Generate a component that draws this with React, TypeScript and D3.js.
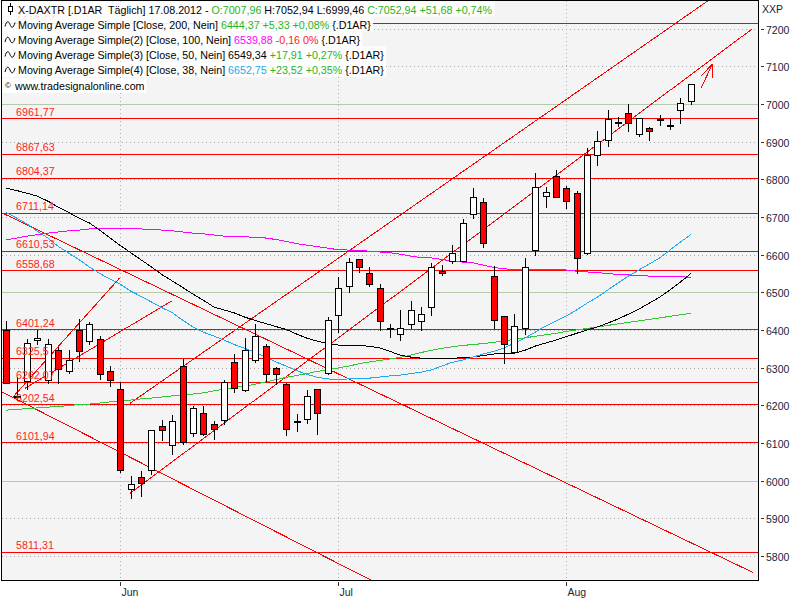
import React, { useLayoutEffect, useRef, useState } from 'react';
import * as d3 from 'd3';

// ---- Daily candles (index 0 = mid May 2012 ... index 66 = 17.08.2012)
const opens = [6399, 6222, 6264, 6374, 6266, 6347, 6291, 6399, 6370, 6377, 6290, 6244, 5977, 6010, 6028, 6146, 6095, 6305, 6127, 6180, 6149, 6161, 6316, 6241, 6319, 6357, 6300, 6257, 6156, 6164, 6244, 6285, 6439, 6516, 6587, 6551, 6512, 6404, 6390, 6415, 6425, 6461, 6556, 6583, 6583, 6709, 6739, 6544, 6438, 6341, 6406, 6612, 6755, 6809, 6776, 6764, 6605, 6864, 6903, 6950, 6976, 6920, 6936, 6961, 6944, 6983, 7007.96];
const highs = [6424, 6276, 6376, 6399, 6375, 6356, 6346, 6428, 6420, 6383, 6303, 6261, 6011, 6026, 6135, 6162, 6173, 6322, 6197, 6199, 6159, 6266, 6337, 6379, 6415, 6363, 6301, 6258, 6177, 6241, 6244, 6434, 6541, 6590, 6588, 6566, 6523, 6415, 6453, 6476, 6461, 6578, 6572, 6625, 6694, 6776, 6749, 6569, 6438, 6441, 6592, 6816, 6779, 6825, 6782, 6770, 6884, 6927, 6984, 6964, 7000, 6963, 6938, 6971, 6960, 7016, 7052.94];
const lows = [6258, 6214, 6243, 6362, 6259, 6259, 6285, 6317, 6363, 6269, 6250, 6024, 5954, 5960, 6017, 6108, 6071, 6097, 6118, 6121, 6110, 6150, 6235, 6239, 6314, 6264, 6257, 6121, 6133, 6152, 6124, 6284, 6394, 6501, 6554, 6517, 6401, 6381, 6373, 6406, 6401, 6439, 6545, 6578, 6582, 6696, 6621, 6406, 6312, 6338, 6388, 6598, 6725, 6752, 6723, 6550, 6601, 6838, 6889, 6942, 6927, 6916, 6903, 6943, 6934, 6950, 6999.46];
const closes = [6260, 6224, 6364, 6379, 6363, 6297, 6319, 6344, 6417, 6282, 6268, 6028, 5992, 5995, 6134, 6134, 6157, 6102, 6193, 6124, 6137, 6261, 6246, 6347, 6385, 6282, 6282, 6137, 6158, 6225, 6179, 6427, 6512, 6579, 6566, 6523, 6425, 6402, 6406, 6454, 6443, 6566, 6551, 6603, 6685, 6754, 6632, 6427, 6362, 6410, 6567, 6779, 6767, 6752, 6743, 6590, 6864, 6901, 6960, 6952, 6949, 6962, 6929, 6959, 6943, 7002, 7052.94];

// ---- Moving averages (one value per candle)
const ma200 = [6187, 6189, 6191, 6193, 6195, 6197, 6199, 6202, 6203, 6206, 6209, 6211, 6214, 6217, 6219, 6222, 6225, 6227, 6230, 6233, 6238, 6243, 6247, 6251, 6256, 6262, 6268, 6274, 6279, 6284, 6290, 6294, 6299, 6304, 6310, 6315, 6319, 6323, 6327, 6333, 6340, 6346, 6351, 6355, 6359, 6361, 6364, 6367, 6371, 6375, 6379, 6383, 6387, 6391, 6396, 6400, 6404, 6408, 6412, 6416, 6420, 6424, 6428, 6432, 6436, 6440, 6444.37];
const ma100 = [6639, 6644, 6649, 6653, 6657, 6660, 6663, 6665, 6668, 6669, 6669, 6669, 6668, 6668, 6667, 6665, 6663, 6660, 6657, 6655, 6652, 6649, 6648, 6647, 6646, 6644, 6640, 6635, 6629, 6625, 6621, 6617, 6613, 6612, 6611, 6609, 6607, 6605, 6601, 6596, 6592, 6591, 6587, 6583, 6580, 6578, 6572, 6566, 6562, 6561, 6561, 6561, 6560, 6560, 6559, 6556, 6554, 6552, 6550, 6547, 6546, 6544, 6543, 6542, 6541, 6541, 6539.88];
const ma50 = [6776, 6770, 6763, 6755, 6742, 6726, 6712, 6697, 6684, 6665, 6644, 6624, 6605, 6586, 6567, 6547, 6530, 6513, 6495, 6479, 6461, 6453, 6445, 6434, 6425, 6417, 6409, 6401, 6389, 6378, 6370, 6364, 6360, 6358, 6358, 6357, 6352, 6343, 6333, 6328, 6325, 6325, 6325, 6325, 6326, 6328, 6332, 6336, 6338, 6338, 6346, 6357, 6365, 6373, 6382, 6391, 6400, 6408, 6418, 6429, 6442, 6455, 6471, 6487, 6506, 6527, 6549.34];
const ma38 = [6711, 6697, 6681, 6662, 6644, 6622, 6604, 6587, 6567, 6550, 6535, 6521, 6503, 6489, 6474, 6459, 6446, 6426, 6408, 6394, 6384, 6373, 6361, 6351, 6341, 6328, 6315, 6304, 6292, 6282, 6274, 6270, 6268, 6270, 6271, 6272, 6275, 6278, 6280, 6284, 6288, 6294, 6304, 6314, 6320, 6328, 6336, 6343, 6352, 6365, 6378, 6394, 6410, 6424, 6437, 6453, 6471, 6487, 6506, 6525, 6543, 6559, 6575, 6591, 6612, 6633, 6652.75];

// ---- Horizontal support / resistance levels
const levelValues = [7215.73, 6961.77, 6867.63, 6804.37, 6711.14, 6610.53, 6558.68, 6401.24, 6325.5, 6262.07, 6202.54, 6101.94, 5811.31];
const levelLabels = ['7215,73', '6961,77', '6867,63', '6804,37', '6711,14', '6610,53', '6558,68', '6401,24', '6325,5', '6262,07', '6202,54', '6101,94', '5811,31'];

// ---- Trend lines: [index1, value1, index2, value2]
const trendLines: number[][] = [
  [-0.444, 6711.2, 71.98, 5756.6],
  [-0.444, 6236.0, 37.0, 5710.0],
  [0.675, 6222.7, 10.897, 6537.0],
  [1.803, 6245.0, 15.95, 6476.8],
  [11.929, 6205.2, 68.2, 7284.0],
  [11.929, 5966.3, 71.88, 7198.0],
];
// arrow near the last candle
const arrowLines: number[][] = [
  [66.99, 7041.4, 68.08, 7105.1],
  [68.08, 7105.1, 66.99, 7074.1],
  [68.08, 7105.1, 68.08, 7067.9],
];

// ---- Axes
const yTicks = [5800, 5900, 6000, 6100, 6200, 6300, 6400, 6500, 6600, 6700, 6800, 6900, 7000, 7100, 7200];
const solidGrid = [6000, 6500, 7000];
const monthLabels = ['Jun', 'Jul', 'Aug'];
const monthIndex = [11, 32, 54];

const FONT = "'Liberation Sans', Arial, sans-serif";
const GREEN = '#26b426';

type Seg = { t: string; c: string };
const legendRows: Seg[][] = [
  [
    { t: 'X-DAXTR [.D1AR  Täglich] 17.08.2012 - ', c: '#000' },
    { t: 'O:7007,96', c: GREEN },
    { t: ' H:7052,94 L:6999,46 ', c: '#000' },
    { t: 'C:7052,94 +51,68 +0,74%', c: GREEN },
  ],
  [
    { t: 'Moving Average Simple [Close, 200, Nein] ', c: '#000' },
    { t: '6444,37 +5,33 +0,08%', c: GREEN },
    { t: ' {.D1AR}', c: '#000' },
  ],
  [
    { t: 'Moving Average Simple(2) [Close, 100, Nein] ', c: '#000' },
    { t: '6539,88', c: '#ff00ff' },
    { t: ' -0,16 0%', c: '#ff2020' },
    { t: ' {.D1AR}', c: '#000' },
  ],
  [
    { t: 'Moving Average Simple(3) [Close, 50, Nein] ', c: '#000' },
    { t: '6549,34', c: '#000' },
    { t: ' +17,91 +0,27%', c: GREEN },
    { t: ' {.D1AR}', c: '#000' },
  ],
  [
    { t: 'Moving Average Simple(4) [Close, 38, Nein] ', c: '#000' },
    { t: '6652,75', c: '#22aaf0' },
    { t: ' +23,52 +0,35%', c: GREEN },
    { t: ' {.D1AR}', c: '#000' },
  ],
  [{ t: 'www.tradesignalonline.com', c: '#000' }],
];
const legendBaselines = [13.5, 28.5, 44, 58.5, 74, 90];
const legendX = [18, 18, 18, 18, 18, 15];

export default function App() {
  const x = d3.scaleLinear().domain([-0.415, 72.49]).range([2, 758]);
  const y = d3.scaleLinear().domain([5736.2, 7273.1]).range([580, 1]);

  const textRefs = useRef<(SVGTextElement | null)[]>([]);
  const [ends, setEnds] = useState<number[]>([478, 372, 360, 382, 382, 145]);
  useLayoutEffect(() => {
    const e = textRefs.current.map((t, i) => {
      if (!t) return ends[i];
      const b = t.getBBox();
      return b.x + b.width + 2;
    });
    setEnds(e);
  }, []);

  const line = d3
    .line<number>()
    .x((_, i) => x(i))
    .y((d) => y(d));

  const maSeries = [
    { data: ma200, color: '#33c833' },
    { data: ma100, color: '#ff00ff' },
    { data: ma50, color: '#000000' },
    { data: ma38, color: '#1eaaf0' },
  ];

  return (
    <svg
      width={800}
      height={600}
      style={{ position: 'absolute', left: 0, top: 0, background: '#fff' }}
      fontFamily={FONT}
    >
      <defs>
        <clipPath id="plotClip">
          <rect x={2} y={1} width={756} height={579} />
        </clipPath>
      </defs>
      <rect x={0} y={0} width={800} height={600} fill="#fff" />
      <rect x={2} y={1} width={756} height={579} fill="#f4f4f4" />

      <g clipPath="url(#plotClip)">
        {/* horizontal grid */}
        {yTicks.map((t) => {
          const yy = Math.round(y(t)) + 0.5;
          const solid = solidGrid.includes(t);
          return (
            <line
              key={'g' + t}
              x1={2}
              x2={758}
              y1={yy}
              y2={yy}
              stroke={solid ? '#b4ccac' : '#a8a8a8'}
              strokeDasharray={solid ? undefined : '1,3'}
              shapeRendering="crispEdges"
            />
          );
        })}
        {/* vertical grid */}
        {monthIndex.map((mi) => {
          const xx = Math.round(x(mi)) + 0.5;
          return (
            <line
              key={'v' + mi}
              x1={xx}
              x2={xx}
              y1={1}
              y2={580}
              stroke="#a4bca4"
              strokeDasharray="1,3"
              shapeRendering="crispEdges"
            />
          );
        })}

        {/* level lines */}
        {levelValues.map((v) => {
          const yy = Math.round(y(v)) + 0.5;
          return (
            <line key={'l' + v} x1={2} x2={758} y1={yy} y2={yy} stroke="#ff0000" strokeWidth={1.3} shapeRendering="crispEdges" />
          );
        })}

        {/* trend lines */}
        {trendLines.concat(arrowLines).map((s, k) => (
          <line
            key={'t' + k}
            x1={x(s[0])}
            y1={y(s[1])}
            x2={x(s[2])}
            y2={y(s[3])}
            stroke="#ff0000"
            strokeWidth={1}
            shapeRendering="crispEdges"
          />
        ))}

        {/* moving averages */}
        {maSeries.map((m, k) => (
          <path key={'m' + k} d={line(m.data) || ''} fill="none" stroke={m.color} strokeWidth={1} shapeRendering="crispEdges" />
        ))}

        {/* candles */}
        {closes.map((c, i) => {
          const o = opens[i];
          const h = highs[i];
          const l = lows[i];
          const cx = Math.round(x(i)) + 0.5;
          const top = Math.round(y(Math.max(o, c))) + 0.5;
          const bot = Math.round(y(Math.min(o, c))) + 0.5;
          const up = c >= o;
          return (
            <g key={'c' + i} shapeRendering="crispEdges">
              <line x1={cx} x2={cx} y1={Math.round(y(h))} y2={Math.round(y(l)) + 1} stroke="#000" />
              <rect x={cx - 3} y={top} width={6} height={Math.max(1, bot - top)} fill={up ? '#ffffff' : '#ff0000'} stroke="#000" />
            </g>
          );
        })}

        {/* level labels */}
        {levelValues.map((v, k) => (
          <text key={'ll' + v} x={16} y={y(v) - 2.5} fontSize={10.7} fill="#ff1e1e">
            {levelLabels[k]}
          </text>
        ))}

        {/* legend */}
        {legendRows.map((row, r) => (
          <rect
            key={'lb' + r}
            x={2}
            y={legendBaselines[r] - 12}
            width={ends[r] - 2}
            height={15}
            fill="#ffffff"
            fillOpacity={0.9}
          />
        ))}
        {legendRows.map((row, r) => (
          <text
            key={'lt' + r}
            ref={(el) => {
              textRefs.current[r] = el;
            }}
            x={legendX[r]}
            y={legendBaselines[r]}
            fontSize={10.7}
            style={{ whiteSpace: 'pre' }}
          >
            {row.map((s, k) => (
              <tspan key={k} fill={s.c}>
                {s.t}
              </tspan>
            ))}
          </text>
        ))}
        {/* legend icons */}
        <g stroke="#000" fill="none" strokeWidth={1}>
          <line x1={10.5} x2={10.5} y1={3} y2={15} />
          <rect x={8.5} y={6.5} width={4} height={5} fill="#fff" />
          {[1, 2, 3, 4].map((r) => {
            const b = legendBaselines[r] - 4;
            return (
              <path
                key={'ic' + r}
                d={`M5,${b + 2} C6.5,${b - 4} 8.5,${b - 4} 10,${b} S13.5,${b + 4} 15,${b - 2}`}
              />
            );
          })}
        </g>
        <text x={5} y={88} fontSize={8}>
          ©
        </text>
      </g>

      {/* plot border */}
      <rect x={1.5} y={0.5} width={757} height={580} fill="none" stroke="#000" strokeWidth={1} shapeRendering="crispEdges" />

      {/* right axis */}
      {yTicks.map((t) => {
        const yy = Math.round(y(t)) + 0.5;
        return (
          <g key={'ya' + t}>
            <line x1={761} x2={764} y1={yy} y2={yy} stroke="#333" shapeRendering="crispEdges" />
            <text x={766} y={yy + 4} fontSize={10.5} fill="#1c1c40">
              {t}
            </text>
          </g>
        );
      })}
      <text x={762} y={13} fontSize={10.5} fill="#1c1c40">
        XXP
      </text>

      {/* bottom axis */}
      {monthIndex.map((mi, k) => {
        const xx = Math.round(x(mi)) + 0.5;
        return (
          <g key={'xa' + mi}>
            <line x1={xx} x2={xx} y1={582} y2={586} stroke="#333" shapeRendering="crispEdges" />
            <text x={xx + 1} y={596} fontSize={10.5} fill="#1c1c40">
              {monthLabels[k]}
            </text>
          </g>
        );
      })}
    </svg>
  );
}
